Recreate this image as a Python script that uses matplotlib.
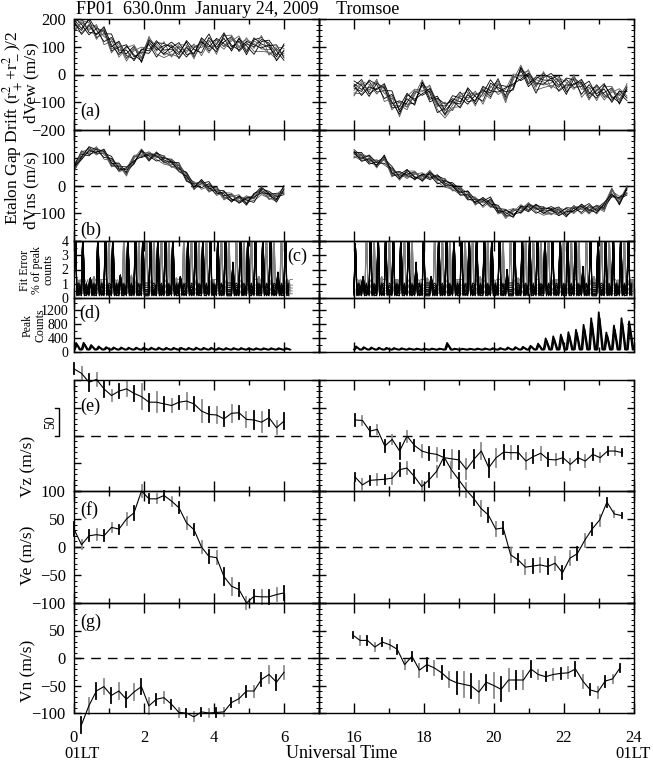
import numpy as np
import matplotlib.pyplot as plt
from matplotlib.lines import Line2D
from matplotlib.ticker import MultipleLocator

plt.rcParams['font.family'] = ['Liberation Serif', 'DejaVu Serif']
plt.rcParams['mathtext.fontset'] = 'stix'
plt.rcParams['axes.linewidth'] = 1.0

# ---------------- data ----------------
# etalon gap drift bundles (a), (b)
t_ab_left = np.linspace(0.0, 6.0, 29)
t_ab_right = np.linspace(16.0, 23.8, 37)
dvew_left = [180, 175, 170, 155, 140, 110, 95, 75, 80, 70, 105, 95, 88, 88, 88,
             90, 85, 100, 110, 105, 118, 115, 110, 100, 105, 110, 95, 80, 78]
dvew_right = [-52, -45, -52, -42, -65, -95, -120, -100, -80, -48, -70, -105, -130,
              -105, -90, -80, -85, -75, -55, -40, -75, -25, 5, -15, -35, -20, -25,
              -30, -45, -25, -50, -60, -62, -65, -70, -80, -65]
dvns_left = [61, 110, 122, 126, 113, 85, 67, 49, 94, 116, 104, 106, 92, 79, 67,
             30, 0, 4, -6, -18, -37, -43, -49, -55, -43, -18, -37, -43, -18]
dvns_right = [113, 104, 92, 79, 92, 49, 37, 40, 37, 30, 37, 24, 9, -6, -18, -37,
              -55, -61, -61, -85, -104, -98, -85, -79, -82, -92, -92, -92, -98,
              -85, -85, -85, -85, -79, -24, -55, -18]
# spread of the individual ring lines around the bundle centre (m/s)
jitter = [
    [10, -5, 15, -12, 4, 20, -8, 0, 12, -15, 6, -3, 9],
    [-12, 8, -6, 14, -18, 5, 10, -10, 3, 16, -7, 9, -4],
    [5, 15, -10, -4, 12, -14, 2, 18, -9, 6, -16, 11, 13],
    [-8, -14, 6, 10, -2, 8, -18, 12, 15, -5, 9, -12, -15],
    [16, 3, -15, 6, 9, -6, 14, -4, -13, 10, 2, -18, 5],
    [-3, 11, 9, -16, 16, -10, 5, -15, 7, 2, 14, 4, -10],
    [2, -9, 18, 3, -12, 13, -4, 7, -17, 12, -11, 15, 0],
    [-14, 6, -2, 8, 6, -18, 12, -9, 10, -8, 18, -6, 17],
    [7, -17, 4, -7, 18, -2, -13, 15, -5, -12, 11, 1, -8],
]

# fit error (c): spike heights per cycle (values > 4 are off scale)
c_left_black = [5, 5, 1.4, 5, 5, 5, 1.6, 5, 5, 5, 5, 5, 5, 5, 1.5, 5, 5, 5, 5, 5,
                5, 2.5, 5, 5, 5, 5, 5, 1.8, 5]
c_left_gray = [1.2, 1.0, 1.5, 1.3, 5, 1.2, 5, 1.6, 5, 5, 5, 5, 5, 1.4, 5, 5, 5, 5,
               1.3, 5, 5, 5, 5, 5, 1.5, 5, 5, 5, 1.2]
c_right_black = [3.8, 1.5, 5, 5, 5, 5, 5, 5, 2.5, 5, 1.5, 5, 5, 5, 5, 5, 5, 5, 5,
                 5, 2, 5, 5, 5, 5, 5, 5, 5, 5, 5, 2.2, 5, 5, 5, 5, 5, 5]
c_right_gray = [1.2, 5, 5, 1.5, 5, 1.3, 5, 5, 1.2, 1.4, 5, 5, 5, 1.3, 5, 5, 1.5, 5,
                1.2, 5, 5, 1.4, 5, 5, 5, 5, 1.3, 5, 5, 5, 5, 1.5, 5, 5, 1.2, 5, 1.3]
c_base_black = [0.2, 0.3, 0.45, 0.6, 0.75, 0.9, 1.05, 0.35, 0.15, 0.55, 0.25]
c_base_gray = [0.5, 0.9, 1.3, 0.7, 0.3]

# peak counts (d): peak per cycle
d_left_peak = [260, 265, 200, 160, 140, 130, 130, 125, 125, 125, 125, 125, 120, 120,
               120, 120, 125, 120, 120, 115, 115, 115, 115, 110, 110, 110, 110, 110, 110]
d_right_peak = [160, 140, 130, 125, 120, 115, 110, 105, 100, 100, 100, 100, 260, 95,
                95, 95, 100, 105, 110, 115, 130, 140, 150, 180, 240, 390, 450, 500,
                570, 640, 780, 970, 1140, 560, 760, 970, 880]
d_low = 70

# winds (e), (f), (g)
t_vz_left = np.linspace(0.0, 6.0, 29)
vz_left = [120, 112, 96, 101, 84, 72, 80, 84, 76, 70, 60, 60, 57, 54, 60, 62, 57,
           44, 38, 37, 30, 40, 41, 29, 28, 24, 32, 14, 26]
vz_left_err = [10, 12, 15, 12, 15, 10, 12, 12, 14, 22, 15, 18, 12, 12, 12, 14, 12,
               20, 14, 14, 12, 15, 12, 14, 16, 18, 14, 12, 14]
t_vz_right = np.linspace(16.03, 23.67, 37)
vz_right = [28, 27, 8, 11, -19, -7, -28, -1, -18, -28, -32, -34, -40, -42, -44, -61,
            -43, -28, -58, -40, -30, -31, -31, -46, -38, -32, -43, -44, -40, -52,
            -40, -46, -34, -40, -28, -28, -31]
vz_right_err = [10, 8, 8, 8, 10, 8, 14, 10, 10, 10, 12, 12, 14, 16, 16, 18, 16, 14,
                16, 16, 12, 12, 12, 14, 12, 12, 12, 10, 10, 10, 10, 10, 10, 8, 8, 8, 6]

t_ve_left = np.linspace(0.0, 6.0, 29)
ve_left = [32, 4, 20, 22, 20, 35, 32, 50, 61, 100, 86, 86, 92, 82, 70, 43, 31, 0,
           -17, -19, -53, -70, -76, -100, -88, -89, -89, -85, -82]
ve_left_err = [12, 8, 10, 10, 10, 8, 8, 10, 12, 10, 8, 8, 8, 8, 10, 10, 10, 10, 12,
               12, 15, 15, 12, 10, 12, 12, 12, 12, 12]
t_ve_right = np.linspace(16.03, 23.65, 37)
ve_right = [125, 111, 119, 120, 121, 123, 138, 141, 126, 108, 120, 135, 161, 138,
            120, 102, 87, 69, 57, 32, 34, -14, -23, -36, -34, -32, -35, -29, -46,
            -20, -12, 12, 32, 48, 80, 59, 56]
ve_right_err = [8, 10, 8, 10, 8, 10, 12, 10, 12, 10, 12, 10, 12, 14, 12, 12, 12, 14,
                12, 12, 10, 12, 10, 12, 12, 12, 14, 12, 12, 12, 12, 12, 10, 10, 8, 6, 4]

t_vn_left = np.linspace(0.21, 6.0, 28)
vn_left = [-122, -87, -60, -52, -68, -60, -75, -62, -52, -87, -75, -72, -84, -99,
           -100, -107, -98, -100, -99, -98, -81, -74, -60, -60, -39, -30, -44, -26]
vn_left_err = [15, 15, 14, 14, 14, 14, 14, 14, 14, 14, 10, 10, 8, 8, 8, 8, 8, 8, 8,
               8, 8, 8, 10, 10, 12, 15, 14, 12]
t_vn_right = np.linspace(15.96, 23.6, 37)
vn_right = [42, 32, 32, 20, 29, 24, 16, -12, 3, -22, -12, -18, -27, -39, -45, -48,
            -51, -62, -44, -50, -57, -40, -40, -40, -20, -30, -34, -30, -28, -27,
            -20, -42, -58, -62, -42, -38, -18]
vn_right_err = [5, 8, 8, 8, 8, 8, 8, 8, 8, 12, 12, 12, 12, 14, 20, 22, 22, 20, 14, 22,
                22, 20, 16, 16, 14, 8, 8, 10, 10, 10, 12, 12, 10, 10, 10, 8, 8]

# ---------------- layout ----------------
W, H = 653, 762
fig = plt.figure(figsize=(W / 100, H / 100), dpi=100)


def box(x0, x1, y0, y1):
    return [x0 / W, 1 - y1 / H, (x1 - x0) / W, (y1 - y0) / H]


def ftext(x, y, s, **kw):
    fig.text(x / W, 1 - y / H, s, **kw)


XL0, XM, XR = 74, 319, 634
rows = [('a', 19, 130), ('b', 130, 241), ('c', 241, 298), ('d', 298, 352),
        ('e', 380, 491), ('f', 491, 603), ('g', 603, 713)]
ylims = {'a': (-200, 200), 'b': (-200, 200), 'c': (0, 4), 'd': (0, 1550),
         'e': (-100, 100), 'f': (-100, 100), 'g': (-100, 100)}
ymajor = {'a': [-200, -100, 0, 100, 200], 'b': [-200, -100, 0, 100, 200],
          'c': [0, 1, 2, 3, 4], 'd': [0, 400, 800, 1200],
          'e': [-100, -50, 0, 50, 100], 'f': [-100, -50, 0, 50, 100],
          'g': [-100, -50, 0, 50, 100]}
yminor = {'a': 20, 'b': 20, 'c': 0.5, 'd': 200, 'e': 10, 'f': 10, 'g': 10}
yshown = {'a': [-200, -100, 0, 100, 200], 'b': [-100, 0, 100], 'c': [0, 1, 2, 3, 4],
          'd': [0, 400, 800, 1200], 'e': [], 'f': [-100, -50, 0, 50, 100],
          'g': [-100, -50, 0, 50]}

axes = {}
for key, top, bot in rows:
    axl = fig.add_axes(box(XL0, XM, top, bot))
    axr = fig.add_axes(box(XM, XR, top, bot))
    for ax, xl in ((axl, (0, 7)), (axr, (15, 24))):
        ax.patch.set_visible(False)
        ax.set_xlim(*xl)
        ax.set_ylim(*ylims[key])
        ax.xaxis.set_major_locator(MultipleLocator(2))
        ax.xaxis.set_minor_locator(MultipleLocator(1))
        ax.set_yticks(ymajor[key])
        ax.set_yticklabels([str(v).replace('-', '\u2212') if v in yshown[key] else ''
                            for v in ymajor[key]])
        ax.yaxis.set_minor_locator(MultipleLocator(yminor[key]))
        ax.tick_params(which='both', direction='in', top=True, right=True,
                       labelsize=12, width=1.0)
        ax.tick_params(axis='x', which='major', length=7, pad=12)
        ax.tick_params(axis='x', which='minor', length=3.5)
        ax.tick_params(axis='y', which='major', length=5, pad=6)
        ax.tick_params(axis='y', which='minor', length=2, width=0.7)
        if key in ('c', 'd'):
            ax.tick_params(axis='y', labelsize=10, pad=4)
        if key != 'g':
            ax.tick_params(labelbottom=False)
        if key not in ('c', 'd'):
            ax.axhline(0, color='k', lw=1.0, ls=(0, (7, 5)), zorder=1)
    axr.tick_params(labelleft=False)
    axes[key] = (axl, axr)


def bundle(ax, t, mean, scale):
    for i, row in enumerate(jitter):
        dev = np.resize(np.array(row, float), len(t)) * scale
        ax.plot(t, np.asarray(mean, float) + dev, color='k' if i % 2 == 0 else '0.35',
                lw=0.6)


def spikes(ax, t, peaks, bases, off, color, lw):
    n = len(bases)
    for i in range(n):
        xs, ys = [], []
        for k, (tk, pk) in enumerate(zip(t, peaks)):
            xs += [tk + off, tk + off + 0.04, tk + off + 0.08, tk + off + 0.14]
            ys += [bases[(i + k) % n], pk, bases[(i + 2 * k + 3) % n],
                   bases[(i + 3 * k + 5) % n]]
        ax.plot(xs, ys, color=color, lw=lw)


def sawtooth(ax, t, peaks, low):
    for frac, dt, lw in ((1.0, 0.0, 1.3), (0.85, 0.03, 1.0)):
        xs, ys = [], []
        for tk, pk in zip(t, peaks):
            xs += [tk + dt, tk + dt + 0.06, tk + dt + 0.16]
            ys += [low, pk * frac, low]
        ax.plot(xs, ys, color='k', lw=lw)


def wind(ax, t, v, err):
    ax.plot(t, v, color='k', lw=0.8, clip_on=False, zorder=3)
    for i, (ti, vi, ei) in enumerate(zip(t, v, err)):
        ax.plot([ti, ti], [vi - ei, vi + ei], color='k' if i % 2 == 0 else '0.55',
                lw=1.3, clip_on=False, zorder=2)


bundle(axes['a'][0], t_ab_left, dvew_left, 1.8)
bundle(axes['a'][1], t_ab_right, dvew_right, 1.8)
bundle(axes['b'][0], t_ab_left, dvns_left, 1.0)
bundle(axes['b'][1], t_ab_right, dvns_right, 1.0)

spikes(axes['c'][0], t_ab_left, c_left_gray, c_base_gray, 0.1, '0.5', 0.7)
spikes(axes['c'][0], t_ab_left, c_left_black, c_base_black, 0.0, 'k', 0.7)
spikes(axes['c'][1], t_ab_right, c_right_gray, c_base_gray, 0.1, '0.5', 0.7)
spikes(axes['c'][1], t_ab_right, c_right_black, c_base_black, 0.0, 'k', 0.7)

sawtooth(axes['d'][0], t_ab_left, d_left_peak, d_low)
sawtooth(axes['d'][1], t_ab_right, d_right_peak, d_low)

wind(axes['e'][0], t_vz_left, vz_left, vz_left_err)
wind(axes['e'][1], t_vz_right, vz_right, vz_right_err)
wind(axes['f'][0], t_ve_left, ve_left, ve_left_err)
wind(axes['f'][1], t_ve_right, ve_right, ve_right_err)
wind(axes['g'][0], t_vn_left, vn_left, vn_left_err)
wind(axes['g'][1], t_vn_right, vn_right, vn_right_err)

# ---------------- text ----------------
ftext(76, 14, 'FP01  630.0nm  January 24, 2009    Tromsoe', fontsize=13,
      va='baseline')
for lab, x, y in (('(a)', 80, 111), ('(b)', 80, 230), ('(c)', 287, 256),
                  ('(d)', 79, 313), ('(e)', 80, 406), ('(f)', 80, 510),
                  ('(g)', 80, 622)):
    ftext(x, y, lab, fontsize=13, ha='left', va='center')

ftext(13, 128, 'Etalon Gap Drift (r$_+^2$+r$_-^2$)/2', fontsize=12.5, rotation=90,
      ha='center', va='center')
ftext(31, 83, 'dVew (m/s)', fontsize=12.5, rotation=90, ha='center', va='center')
ftext(31, 190, 'dVns (m/s)', fontsize=12.5, rotation=90, ha='center', va='center')
ftext(37, 270, 'Fit Error\n% of peak\ncounts', fontsize=8.5, rotation=90,
      ha='center', va='center', linespacing=1.0)
ftext(34, 325, 'Peak\nCounts', fontsize=8.5, rotation=90, ha='center', va='center',
      linespacing=1.0)
ftext(28, 466, 'Vz (m/s)', fontsize=12.5, rotation=90, ha='center', va='center')
ftext(51, 422, '50', fontsize=10, rotation=90, ha='center', va='center')
fig.add_artist(Line2D([55 / W, 59 / W, 59 / W, 55 / W],
                      [1 - 408 / H, 1 - 408 / H, 1 - 436 / H, 1 - 436 / H],
                      transform=fig.transFigure, color='k', lw=1.0))
ftext(28, 555, 'Ve (m/s)', fontsize=12.5, rotation=90, ha='center', va='center')
ftext(28, 671, 'Vn (m/s)', fontsize=12.5, rotation=90, ha='center', va='center')

ftext(82, 754, '01LT', fontsize=12, ha='center', va='center')
ftext(633, 754, '01LT', fontsize=12, ha='center', va='center')
ftext(342, 753, 'Universal Time', fontsize=13, ha='center', va='center')

fig.savefig('out.png', dpi=100)
